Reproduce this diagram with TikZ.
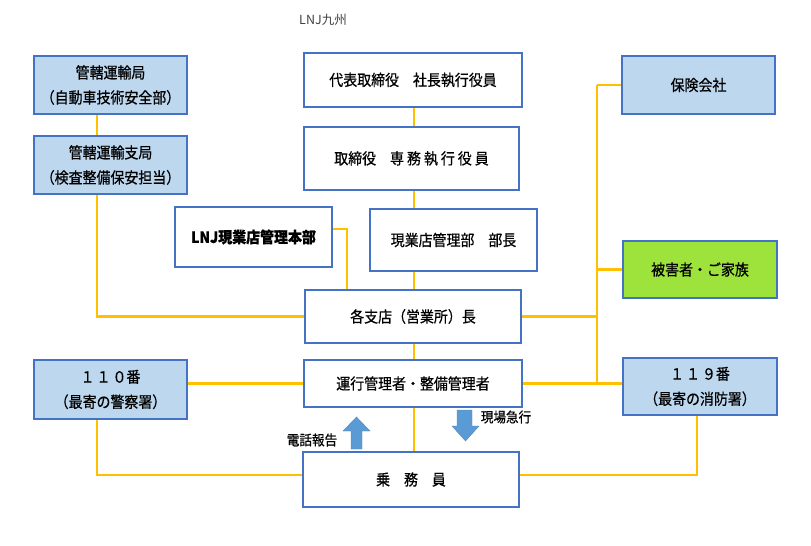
\documentclass[tikz,border=0pt]{standalone}
\usepackage{fontspec}
\newfontfamily\jp[FakeStretch=0.9, FakeBold=0.6]{Noto Sans CJK JP}
\newfontfamily\jpt{Noto Sans CJK JP}
\usetikzlibrary{backgrounds}
\definecolor{bord}{HTML}{4472C4}
\definecolor{lblue}{HTML}{BDD7EE}
\definecolor{lgreen}{RGB}{158,226,60}
\definecolor{conn}{HTML}{FFC000}
\definecolor{arr}{HTML}{5B9BD5}
\definecolor{arrb}{HTML}{4F88C0}
\tikzset{
  base/.style={draw=bord, line width=2.4pt, align=center, inner sep=0pt,
    font=\jp\fontsize{15.5}{25}\selectfont},
  wbox/.style={base, fill=white},
  bbox/.style={base, fill=lblue},
  gbox/.style={base, fill=lgreen},
  link/.style={draw=conn, line width=2.6pt},
  blockarrow/.style={fill=arr, draw=arrb, line width=0.4pt},
  lbl/.style={font=\jp\fontsize{14}{16}\selectfont, inner sep=0pt}
}
\begin{document}
\begin{tikzpicture}[x=1pt,y=-1pt]
\useasboundingbox (0,0) rectangle (811,546);
% title
\node[font=\jpt\fontsize{12.5}{14}\selectfont, text=black!75, inner sep=0pt] (title) at (323,20) {LNJ九州};
% boxes
\node[bbox, minimum width=153, minimum height=58] (kyoku) at (110.5,85) {管轄運輸局\\（自動車技術安全部）};
\node[bbox, minimum width=153, minimum height=58] (shikyoku) at (110.5,165) {管轄運輸支局\\（検査整備保安担当）};
\node[wbox, minimum width=218, minimum height=54] (daihyo) at (413,80) {代表取締役　社長執行役員};
\node[wbox, minimum width=215, minimum height=63] (tori) at (411.5,158.5) {取締役　専\hspace{3pt}務\hspace{3pt}執\hspace{3pt}行\hspace{3pt}役\hspace{3pt}員};
\node[bbox, minimum width=153, minimum height=58] (hoken) at (698.5,85) {保険会社};
\node[wbox, minimum width=157, minimum height=60, font=\jp\bfseries\fontsize{15.5}{25}\selectfont] (honbu) at (253.5,237) {LNJ現業店管理本部};
\node[wbox, minimum width=167, minimum height=62] (kanri) at (453.5,240) {現業店管理部　部長};
\node[gbox, minimum width=154, minimum height=57] (higai) at (700,269.5) {被害者・ご家族};
\node[wbox, minimum width=216, minimum height=53] (shiten) at (413,316.5) {各支店（営業所）長};
\node[bbox, minimum width=153, minimum height=59] (p110) at (110.5,389.5) {１\hspace{2pt}１\hspace{2pt}０番\\（最寄の警察署）};
\node[wbox, minimum width=218, minimum height=47] (unko) at (413,383.5) {運行管理者・整備管理者};
\node[bbox, minimum width=154, minimum height=57] (p119) at (700,386.5) {１\hspace{2pt}１\hspace{2pt}９番\\（最寄の消防署）};
\node[wbox, minimum width=216, minimum height=55] (jomu) at (411,479.5) {乗　務　員};
% labels
\node[lbl] (denwa) at (312,440) {電話報告};
\node[lbl] (genba) at (506,417) {現場急行};
% helper coordinates
\coordinate (lx) at (97,0);
\coordinate (cx) at (414,0);
\coordinate (rx) at (597,0);
\coordinate (hx) at (347,0);
\coordinate (fx) at (697,0);
\coordinate (by) at (0,475);
\begin{scope}[on background layer]
\draw[link] (kyoku.south -| lx) -- (shikyoku.north -| lx);
\draw[link] (shikyoku.south -| lx) |- (shiten.west);
\draw[link] (daihyo.south -| cx) -- (tori.north -| cx);
\draw[link] (tori.south -| cx) -- (kanri.north -| cx);
\draw[link] (kanri.south -| cx) -- (shiten.north -| cx);
\draw[link] (shiten.south -| cx) -- (unko.north -| cx);
\draw[link] (unko.south -| cx) -- (jomu.north -| cx);
\draw[link] ([yshift=8]honbu.east) -| (shiten.north -| hx);
\draw[link] (shiten.east) -- (shiten.east -| rx);
\draw[link] (hoken.west -| rx) -- (hoken.west);
\draw[link] (hoken.west -| rx) -- (unko.east -| rx);
\draw[link] (higai.west -| rx) -- (higai.west);
\draw[link] (unko.east) -- (unko.east -| p119.west);
\draw[link] (p110.east |- unko.east) -- (unko.west);
\draw[link] (p110.south -| lx) |- (jomu.west |- by);
\draw[link] (p119.south -| fx) |- (jomu.east |- by);
\end{scope}
% block arrows
\path[blockarrow] (356.5,417) -- (370,431) -- (362,431) -- (362,449) -- (351,449) -- (351,431) -- (343,431) -- cycle;
\path[blockarrow] (457,410) -- (472,410) -- (472,426) -- (479,426) -- (465.5,441) -- (452,426) -- (457,426) -- cycle;
\end{tikzpicture}
\end{document}
